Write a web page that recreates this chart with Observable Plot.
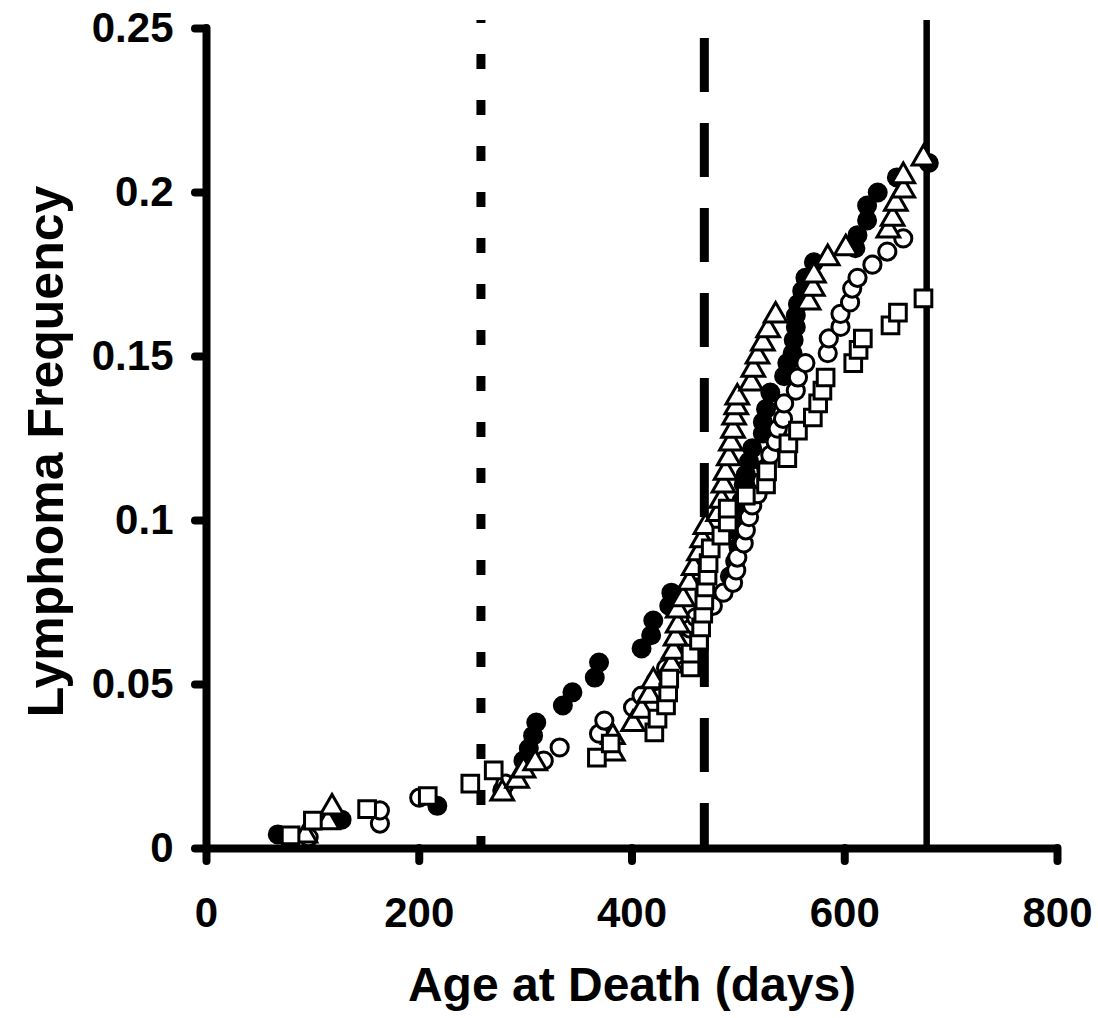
<!DOCTYPE html>
<html>
<head>
<meta charset="utf-8">
<script src="https://cdn.jsdelivr.net/npm/d3@7"></script>
<script src="https://cdn.jsdelivr.net/npm/@observablehq/plot@0.6"></script>
<style>
  html, body { margin: 0; padding: 0; background: #fff; }
  #chart { width: 1098px; height: 1018px; }
</style>
</head>
<body>
<div id="chart"></div>
<script>
// ---- Axis ticks ----
const xTicks = [0, 200, 400, 600, 800];
const yTicks = [0, 0.05, 0.1, 0.15, 0.2, 0.25];
const yTickLabels = ["0", "0.05", "0.1", "0.15", "0.2", "0.25"];
const xTitle = "Age at Death (days)";
const yTitle = "Lymphoma Frequency";

// ---- Reference lines (days) ----
const thresholdDays = [258, 468, 677];

// ---- Series: filled circles ----
const filledDays = [67, 127, 217, 278, 298, 303, 307, 310, 335, 344, 365, 369, 409, 418, 420, 435, 437,
  492, 497, 500, 500, 501, 503, 505, 507, 510, 513, 523, 523, 526, 530, 543, 546, 551, 552, 554, 554, 556,
  560, 563, 571, 610, 612, 621, 621, 631, 649, 679];
const filledFreq = [0.0043, 0.0088, 0.013, 0.0177, 0.0268, 0.0305, 0.0344, 0.0384, 0.0436, 0.0476, 0.0521, 0.0567, 0.061, 0.065, 0.0695, 0.074, 0.078,
  0.083, 0.0875, 0.092, 0.0965, 0.101, 0.106, 0.111, 0.114, 0.118, 0.122, 0.1265, 0.130, 0.134, 0.139, 0.144, 0.148, 0.151, 0.155, 0.159, 0.1625, 0.166,
  0.170, 0.174, 0.1787, 0.183, 0.187, 0.1915, 0.196, 0.200, 0.2046, 0.209];

// ---- Series: open circles ----
const openDays = [96, 163, 163, 200, 281, 317, 332, 369, 374, 401, 409, 422, 432, 442, 450, 455, 460,
  476, 486, 495, 498, 499, 505, 507, 510, 513, 518, 522, 526, 530, 535, 537, 542, 543, 554, 556, 563,
  584, 585, 596, 596, 605, 607, 612, 626, 640, 655];
const openFreq = [0.0034, 0.0076, 0.0116, 0.0155, 0.0198, 0.0268, 0.0308, 0.035, 0.039, 0.043, 0.0466, 0.051, 0.055, 0.059, 0.063, 0.067, 0.0705,
  0.074, 0.078, 0.081, 0.0848, 0.0887, 0.093, 0.097, 0.101, 0.1046, 0.108, 0.112, 0.116, 0.120, 0.124, 0.128, 0.131, 0.1357, 0.1396, 0.1436, 0.148,
  0.151, 0.1555, 0.159, 0.163, 0.1665, 0.1707, 0.174, 0.178, 0.182, 0.186];

// ---- Series: open triangles ----
const triDays = [93, 114, 118, 278, 292, 298, 309, 382, 382, 401, 409, 416, 420, 437, 439, 441, 443, 443, 448, 454, 458,
  463, 466, 469, 481, 484, 486, 488, 491, 493, 495, 496, 498, 499, 512, 514, 518, 523, 528, 535,
  566, 570, 571, 584, 601, 641, 645, 648, 655, 655, 674];
const triFreq = [0.004, 0.008, 0.0125, 0.0168, 0.0207, 0.0238, 0.026, 0.029, 0.034, 0.038, 0.042, 0.0466, 0.051, 0.0558, 0.060, 0.064, 0.068, 0.0726, 0.076, 0.081, 0.0855,
  0.090, 0.094, 0.098, 0.102, 0.106, 0.1107, 0.1146, 0.119, 0.1235, 0.1274, 0.1314, 0.1345, 0.1375, 0.1418, 0.146, 0.150, 0.154, 0.158, 0.1625,
  0.1665, 0.1707, 0.1747, 0.180, 0.183, 0.1884, 0.192, 0.1966, 0.2006, 0.205, 0.2104];

// ---- Series: open squares ----
const sqDays = [79, 100, 151, 208, 248, 270, 367, 380, 421, 424, 432, 434, 435, 455, 455, 463, 465, 467, 468, 469, 471, 472, 474,
  484, 490, 490, 507, 526, 527, 546, 547, 556, 570, 575, 579, 582, 608, 613, 617, 643, 650, 674];
const sqFreq = [0.004, 0.0085, 0.012, 0.016, 0.0198, 0.0238, 0.0277, 0.032, 0.0354, 0.0396, 0.0436, 0.0476, 0.0518, 0.0552, 0.0594, 0.0634, 0.0674, 0.0716, 0.0756, 0.0796, 0.0832, 0.087, 0.0915,
  0.0954, 0.0994, 0.1036, 0.1076, 0.111, 0.115, 0.119, 0.1235, 0.1274, 0.1314, 0.1357, 0.1396, 0.1436, 0.148, 0.152, 0.1555, 0.1595, 0.1634, 0.1677];

const zip = (xs, ys) => xs.map((x, i) => ({x, y: ys[i]}));
const filled = zip(filledDays, filledFreq);
const open = zip(openDays, openFreq);
const tri = zip(triDays, triFreq);
const sq = zip(sqDays, sqFreq);

const FONT = "'Liberation Sans', Arial, Helvetica, sans-serif";

const chart = Plot.plot({
  width: 1098,
  height: 1018,
  marginLeft: 206,
  marginRight: 41,
  marginTop: 28,
  marginBottom: 170,
  x: {domain: [0, 800]},
  y: {domain: [0, 0.25]},
  style: {fontFamily: FONT, fontWeight: "bold", color: "black", background: "white"},
  marks: [
    // reference lines
    Plot.ruleX([thresholdDays[0]], {stroke: "black", strokeWidth: 9, strokeDasharray: "15,31", strokeDashoffset: 12, insetTop: -8}),
    Plot.ruleX([thresholdDays[1]], {stroke: "black", strokeWidth: 9, strokeDasharray: "54,31", strokeDashoffset: 67, insetTop: -8}),
    Plot.ruleX([thresholdDays[2]], {stroke: "black", strokeWidth: 6.5, insetTop: -8}),
    // series
    Plot.dot(filled, {x: "x", y: "y", symbol: "circle", r: 9, fill: "black", stroke: "black", strokeWidth: 2}),
    Plot.dot(open, {x: "x", y: "y", symbol: "circle", r: 8.6, fill: "white", stroke: "black", strokeWidth: 3}),
    Plot.dot(tri, {x: "x", y: "y", symbol: "triangle", r: 8.4, fill: "white", stroke: "black", strokeWidth: 3}),
    Plot.dot(sq, {x: "x", y: "y", symbol: "square", r: 9.4, fill: "white", stroke: "black", strokeWidth: 3}),
    // axes
    Plot.axisX({ticks: xTicks, tickSize: 13, tickPadding: 36, strokeWidth: 8, strokeLinecap: "round",
      fontSize: 42, fontWeight: "bold", label: null, tickFormat: d => String(d)}),
    Plot.axisY({ticks: yTicks, tickSize: 11, tickPadding: 22, strokeWidth: 8, strokeLinecap: "round",
      fontSize: 42, fontWeight: "bold", label: null, tickFormat: (d, i) => yTickLabels[i]}),
    Plot.ruleY([0], {stroke: "black", strokeWidth: 8, strokeLinecap: "round"}),
    Plot.ruleX([0], {stroke: "black", strokeWidth: 8, strokeLinecap: "round"}),
    // axis titles
    Plot.text([xTitle], {text: d => d, frameAnchor: "bottom", lineAnchor: "middle", textAnchor: "middle", dy: 137,
      fontSize: 48, fontWeight: "bold", fill: "black"}),
    Plot.text([yTitle], {text: d => d, frameAnchor: "left", lineAnchor: "middle", textAnchor: "middle", rotate: -90, dx: -160, dy: 13,
      fontSize: 50, fontWeight: "bold", fill: "black"})
  ]
});
document.getElementById("chart").appendChild(chart);
</script>
</body>
</html>
